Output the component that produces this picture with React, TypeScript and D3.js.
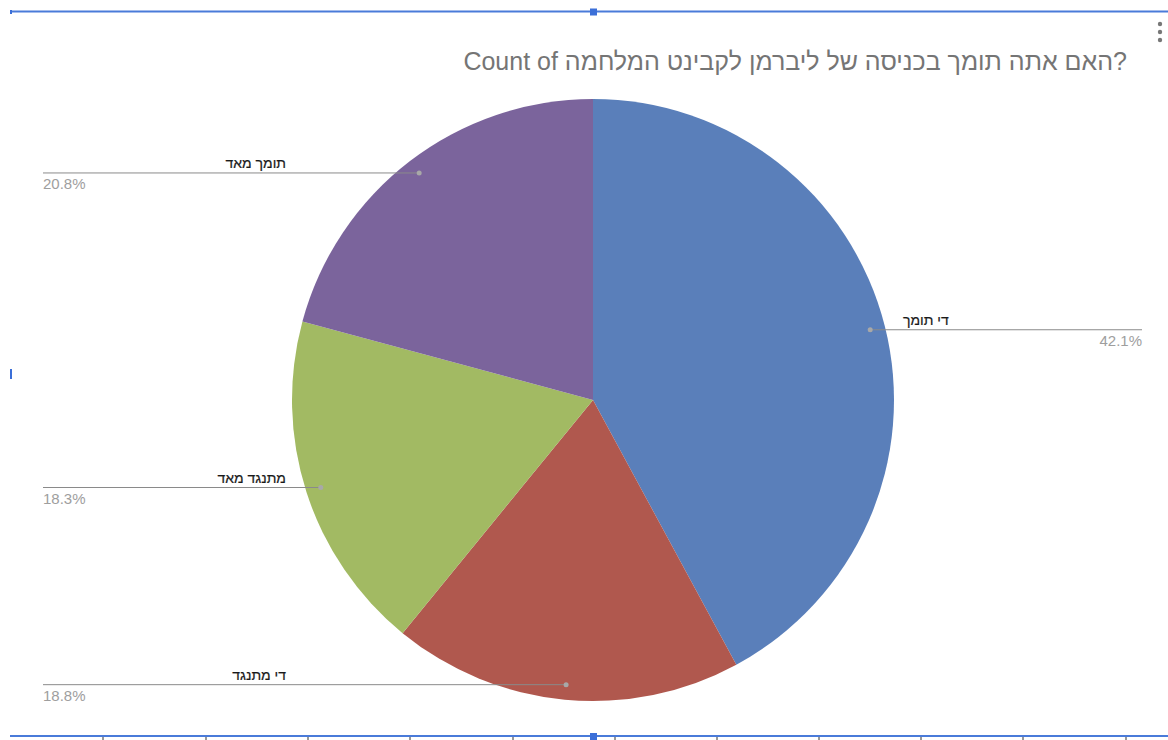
import { useMemo } from "react";
import * as d3 from "d3";

const categories = ["די תומך", "די מתנגד", "מתנגד מאד", "תומך מאד"];
const shares = [42.1, 18.8, 18.3, 20.8];
const colors = ["#5a7fba", "#b0584e", "#a2ba63", "#7b649c"];
const title = "Count of האם אתה תומך בכניסה של ליברמן לקבינט המלחמה?";
const columnEdges = [103, 206, 308, 410, 513, 615, 717, 819, 921, 1023, 1126];

const width = 1168;
const height = 740;

export default function App() {
  const cx = 593;
  const cy = 400;
  const radius = 301;

  const data = categories.map((c, i) => ({ name: c, value: shares[i], color: colors[i] }));

  const arcs = useMemo(
    () =>
      d3
        .pie<{ name: string; value: number; color: string }>()
        .sort(null)
        .value((d) => d.value)(data),
    []
  );

  const arcGen = d3
    .arc<d3.PieArcDatum<{ name: string; value: number; color: string }>>()
    .innerRadius(0)
    .outerRadius(radius);

  const slices = arcs.map((a, i) => (
    <path key={i} d={arcGen(a) || ""} fill={a.data.color} />
  ));

  const labels = arcs.map((a, i) => {
    const mid = (a.startAngle + a.endAngle) / 2;
    const dx = cx + radius * 0.95 * Math.sin(mid);
    const dy = cy - radius * 0.95 * Math.cos(mid);
    const right = Math.sin(mid) > 0;
    const lineEnd = right ? 1142 : 43;
    return (
      <g key={i}>
        <line x1={dx} y1={dy} x2={lineEnd} y2={dy} stroke="#8a8a8a" strokeWidth={1} />
        <circle cx={dx} cy={dy} r={2.5} fill="#a8a8a8" />
        <text
          x={right ? cx + 310 : cx - 307}
          y={dy - 5}
          textAnchor={right ? "start" : "end"}
          fontSize={14}
          fill="#1a1a1a"
          stroke="#1a1a1a"
          strokeWidth={0.2}
          fontFamily="Liberation Sans, Arial, sans-serif"
        >
          {a.data.name}
        </text>
        <text
          x={lineEnd}
          y={dy + 16}
          textAnchor={right ? "end" : "start"}
          fontSize={15}
          fill="#9e9e9e"
          fontFamily="Liberation Sans, Arial, sans-serif"
        >
          {a.data.value.toFixed(1) + "%"}
        </text>
      </g>
    );
  });

  return (
    <svg
      width={width}
      height={height}
      style={{ position: "absolute", left: 0, top: 0, background: "#fff" }}
    >
      {/* selection frame */}
      <line x1={10} y1={11.5} x2={width} y2={11.5} stroke="#4a7bd9" strokeWidth={2} />
      <line x1={10} y1={736} x2={width} y2={736} stroke="#4a7bd9" strokeWidth={2} />
      {columnEdges.map((x) => (
        <line key={x} x1={x} y1={737} x2={x} y2={740} stroke="#333" strokeWidth={1} />
      ))}
      <rect x={590} y={8.5} width={7} height={7} fill="#3b6fd8" />
      <rect x={590} y={733} width={7} height={7} fill="#3b6fd8" />
      <rect x={10} y={369} width={2} height={10} fill="#3b6fd8" />
      <rect x={10} y={10} width={2} height={4} fill="#3b6fd8" />
      {[24, 32, 40].map((y) => (
        <circle key={y} cx={1160} cy={y} r={2.2} fill="#777" />
      ))}

      <text
        x={1127}
        y={70}
        textAnchor="end"
        fontSize={25}
        fill="#757575"
        fontFamily="Liberation Sans, Arial, sans-serif"
        direction="ltr"
      >
        {title}
      </text>

      <g transform={`translate(${cx},${cy})`}>{slices}</g>
      {labels}
    </svg>
  );
}
